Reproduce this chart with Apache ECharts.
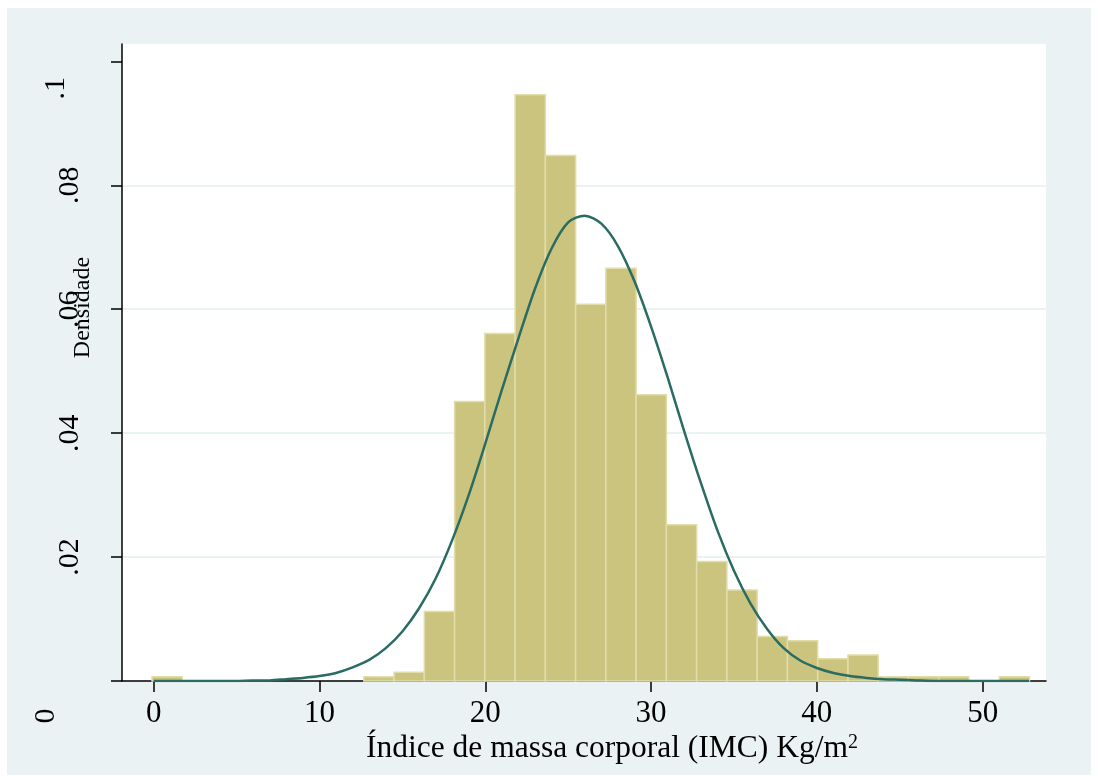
<!DOCTYPE html>
<html><head><meta charset="utf-8">
<script src="https://cdn.jsdelivr.net/npm/echarts@6/dist/echarts.min.js"></script>
<style>html,body{margin:0;padding:0;background:#fff}#c{width:1098px;height:780px}</style>
</head><body><div id="c"></div>
<script>
// Histogram: bin start, bin width and density of each bin
const binStart = -0.1;
const binWidth = 1.825;
const density = [0.0007, 0, 0, 0, 0, 0, 0, 0.0007, 0.0014, 0.0112, 0.0451, 0.0561, 0.0946, 0.0848,
  0.0608, 0.0666, 0.0462, 0.0252, 0.0193, 0.0147, 0.0072, 0.0065, 0.0036, 0.0042, 0.0007, 0.0007, 0.0007, 0, 0.0007];
// Normal density curve, at x = 0, 1, 2, ... 52 and 52.8
const curveX = [0, 1, 2, 3, 4, 5, 6, 7, 8, 9, 10, 11, 12, 13, 14, 15, 16, 17, 18, 19, 20, 21, 22, 23, 24, 25, 26,
  27, 28, 29, 30, 31, 32, 33, 34, 35, 36, 37, 38, 39, 40, 41, 42, 43, 44, 45, 46, 47, 48, 49, 50, 51, 52, 52.8];
const curveY = [0, 0, 0, 0, 0, 0, 0.0001, 0.0001, 0.0003, 0.0005, 0.0008, 0.0013, 0.0022, 0.0034, 0.0053, 0.0080,
  0.0117, 0.0165, 0.0227, 0.0300, 0.0383, 0.0470, 0.0553, 0.0633, 0.0698, 0.0740, 0.0751, 0.0738, 0.0702, 0.0645,
  0.0572, 0.0490, 0.0403, 0.0320, 0.0243, 0.0178, 0.0125, 0.0084, 0.0053, 0.0033, 0.0021, 0.0013, 0.0008, 0.0005,
  0.0003, 0.0002, 0.0001, 0, 0, 0, 0, 0, 0, 0];
const xTicks = [0, 10, 20, 30, 40, 50];
const yTicks = [0, 0.02, 0.04, 0.06, 0.08, 0.1];
const yTickLabels = ['0', '.02', '.04', '.06', '.08', '.1'];
const xTitle = 'Índice de massa corporal (IMC) Kg/m';
const xTitleSup = '2';
const yTitle = 'Densidade';

const FONT = '"Liberation Serif", "Times New Roman", serif';
const chart = echarts.init(document.getElementById('c'), null, {renderer: 'canvas'});
const bins = density.map((d, i) => [binStart + i * binWidth, binStart + (i + 1) * binWidth, d]);
const axisLineStyle = {color: '#000', width: 1.5};

chart.setOption({
  animation: false,
  backgroundColor: 'transparent',
  graphic: [{type: 'rect', z: -100, zlevel: 0, shape: {x: 7, y: 8, width: 1084, height: 767}, style: {fill: '#eaf2f3'}, silent: true}],
  grid: {left: 122, top: 44, right: 52, bottom: 99, show: true, backgroundColor: '#ffffff', borderWidth: 0,
    containLabel: false, outerBoundsMode: 'none'},
  xAxis: {
    type: 'value', min: -1.91, max: 53.82,
    axisLine: {show: true, onZero: false, lineStyle: axisLineStyle},
    axisTick: {show: true, customValues: xTicks, length: 11, lineStyle: axisLineStyle},
    axisLabel: {customValues: xTicks, margin: 17, fontSize: 31, fontFamily: FONT, color: '#000'},
    splitLine: {show: false},
    name: '{t|' + xTitle + '}{s|' + xTitleSup + '}',
    nameLocation: 'middle', nameGap: 52, nameMoveOverlap: false,
    nameTextStyle: {padding: [0, 0, 0, 56], rich: {
      t: {fontSize: 31.5, fontFamily: FONT, color: '#000'},
      s: {fontSize: 20, fontFamily: FONT, color: '#000', verticalAlign: 'top'}
    }}
  },
  yAxis: {
    type: 'value', min: 0, max: 0.1028, interval: 0.02,
    axisLine: {show: true, onZero: false, lineStyle: axisLineStyle},
    axisTick: {show: true, customValues: yTicks, length: 11, lineStyle: axisLineStyle},
    axisLabel: {
      customValues: yTicks, rotate: 90, margin: 37,
      formatter: function (v) {
        const k = Math.round(v / 0.02);
        const s = yTickLabels[k];
        if (k === 5) return '{p1|' + s + '}';
        if (k === 0) return '{p0|' + s + '}';
        return '{n|' + s + '}';
      },
      rich: {
        n: {fontSize: 30, fontFamily: FONT, color: '#000'},
        p1: {fontSize: 30, fontFamily: FONT, color: '#000', padding: [0, 54, 14, 0]},
        p0: {fontSize: 30, fontFamily: FONT, color: '#000', padding: [0, 70, 24, 0]}
      }
    },
    splitLine: {show: true, showMinLine: false, showMaxLine: false, lineStyle: {color: '#eaf2f3', width: 2}},
    name: yTitle, nameLocation: 'middle', nameRotate: 90, nameGap: 27, nameMoveOverlap: false,
    nameTextStyle: {fontSize: 24, fontFamily: FONT, color: '#000', padding: [0, 0, 0, 110]}
  },
  series: [
    {
      type: 'custom', z: 2, clip: false,
      data: bins, encode: {x: [0, 1], y: 2},
      renderItem: function (params, api) {
        const h = api.value(2);
        if (!h) return null;
        const p0 = api.coord([api.value(0), h]);
        const p1 = api.coord([api.value(1), 0]);
        return {type: 'rect', shape: {x: p0[0], y: p0[1], width: p1[0] - p0[0], height: p1[1] - p0[1]},
          style: {fill: '#cbc47f', stroke: '#e1ddab', lineWidth: 1.5}};
      }
    },
    {
      type: 'line', z: 3, silent: true, showSymbol: false, symbol: 'none', smooth: 0.3,
      data: curveX.map((x, i) => [x, curveY[i]]),
      lineStyle: {color: '#2a6b62', width: 2.5}
    }
  ]
});
</script></body></html>
